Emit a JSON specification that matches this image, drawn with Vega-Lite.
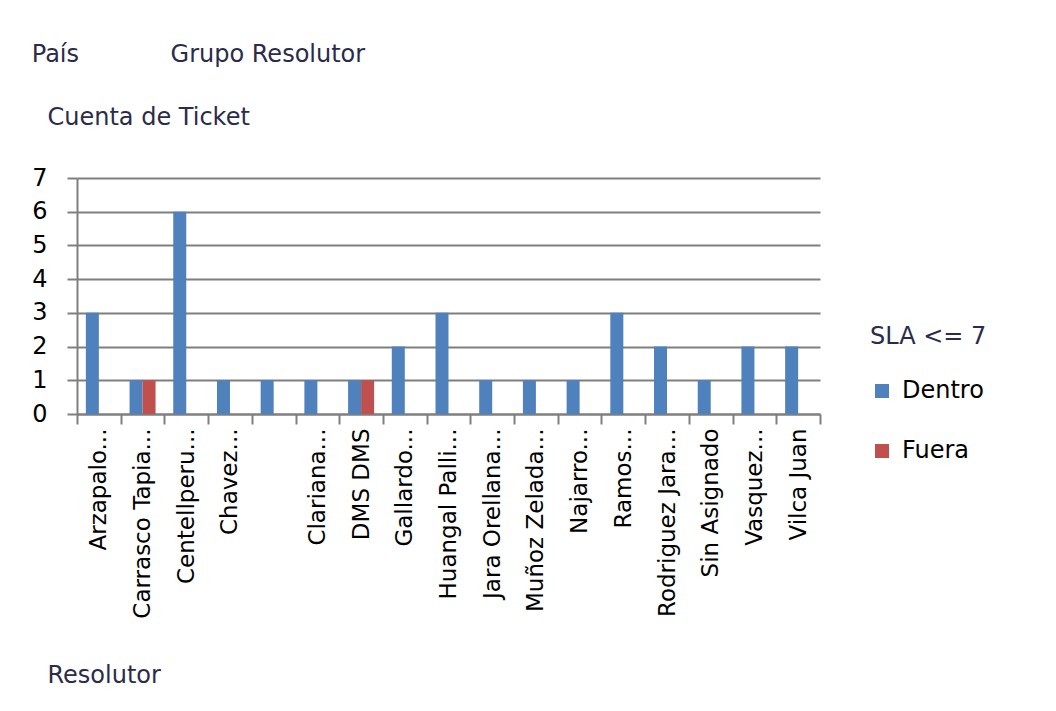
{
  "$schema": "https://vega.github.io/schema/vega-lite/v6.json",
  "autosize": {"type": "none"},
  "width": 743,
  "height": 236,
  "padding": {"left": 77, "top": 178, "right": 236, "bottom": 297},
  "background": "white",
  "title": {
    "text": "País\u00a0\u00a0\u00a0\u00a0\u00a0\u00a0\u00a0\u00a0\u00a0\u00a0\u00a0\u00a0Grupo Resolutor",
    "anchor": "start",
    "frame": "bounds",
    "offset": 38,
    "font": "DejaVu Sans",
    "fontSize": 24,
    "fontWeight": "normal",
    "color": "#2b2b4b"
  },
  "data": {
    "values": [
      {"Resolutor": "Arzapalo...", "SLA": "Dentro", "Cuenta": 3},
      {"Resolutor": "Carrasco Tapia...", "SLA": "Dentro", "Cuenta": 1},
      {"Resolutor": "Carrasco Tapia...", "SLA": "Fuera", "Cuenta": 1},
      {"Resolutor": "Centellperu...", "SLA": "Dentro", "Cuenta": 6},
      {"Resolutor": "Chavez...", "SLA": "Dentro", "Cuenta": 1},
      {"Resolutor": "", "SLA": "Dentro", "Cuenta": 1},
      {"Resolutor": "Clariana...", "SLA": "Dentro", "Cuenta": 1},
      {"Resolutor": "DMS DMS", "SLA": "Dentro", "Cuenta": 1},
      {"Resolutor": "DMS DMS", "SLA": "Fuera", "Cuenta": 1},
      {"Resolutor": "Gallardo...", "SLA": "Dentro", "Cuenta": 2},
      {"Resolutor": "Huangal Palli...", "SLA": "Dentro", "Cuenta": 3},
      {"Resolutor": "Jara Orellana...", "SLA": "Dentro", "Cuenta": 1},
      {"Resolutor": "Muñoz Zelada...", "SLA": "Dentro", "Cuenta": 1},
      {"Resolutor": "Najarro...", "SLA": "Dentro", "Cuenta": 1},
      {"Resolutor": "Ramos...", "SLA": "Dentro", "Cuenta": 3},
      {"Resolutor": "Rodriguez Jara...", "SLA": "Dentro", "Cuenta": 2},
      {"Resolutor": "Sin Asignado", "SLA": "Dentro", "Cuenta": 1},
      {"Resolutor": "Vasquez...", "SLA": "Dentro", "Cuenta": 2},
      {"Resolutor": "Vilca Juan", "SLA": "Dentro", "Cuenta": 2}
    ]
  },
  "mark": {"type": "bar"},
  "encoding": {
    "x": {
      "field": "Resolutor",
      "type": "nominal",
      "sort": ["Arzapalo...", "Carrasco Tapia...", "Centellperu...", "Chavez...", "", "Clariana...", "DMS DMS", "Gallardo...", "Huangal Palli...", "Jara Orellana...", "Muñoz Zelada...", "Najarro...", "Ramos...", "Rodriguez Jara...", "Sin Asignado", "Vasquez...", "Vilca Juan"],
      "scale": {"paddingInner": 0, "paddingOuter": 0},
      "axis": {
        "title": "Resolutor",
        "titleX": -30,
        "titleY": 261,
        "titleAlign": "left",
        "titleBaseline": "middle",
        "titleFont": "DejaVu Sans",
        "titleFontSize": 24,
        "titleFontWeight": "normal",
        "titleColor": "#2b2b4b",
        "labelAngle": 270,
        "labelAlign": "right",
        "labelBaseline": "middle",
        "labelFont": "DejaVu Sans",
        "labelFontSize": 23,
        "labelColor": "#000000",
        "labelPadding": 4,
        "labelOverlap": false,
        "labelLimit": 400,
        "tickBand": "extent",
        "tickSize": 10,
        "tickColor": "#7f7f7f",
        "tickWidth": 2,
        "domainColor": "#7f7f7f",
        "domainWidth": 2,
        "grid": false
      }
    },
    "xOffset": {
      "field": "SLA",
      "type": "nominal",
      "sort": ["Dentro", "Fuera"],
      "scale": {"domain": ["Dentro", "Fuera"], "paddingInner": 0, "paddingOuter": 0.68}
    },
    "y": {
      "field": "Cuenta",
      "type": "quantitative",
      "scale": {"domain": [0, 7], "nice": false},
      "axis": {
        "title": "Cuenta de Ticket",
        "titleAngle": 0,
        "titleX": -30,
        "titleY": -61,
        "titleAlign": "left",
        "titleBaseline": "middle",
        "titleFont": "DejaVu Sans",
        "titleFontSize": 24,
        "titleFontWeight": "normal",
        "titleColor": "#2b2b4b",
        "values": [0, 1, 2, 3, 4, 5, 6, 7],
        "grid": true,
        "gridColor": "#7f7f7f",
        "gridWidth": 2,
        "domainColor": "#7f7f7f",
        "domainWidth": 2,
        "tickColor": "#7f7f7f",
        "tickWidth": 2,
        "tickSize": 10,
        "labelPadding": 20,
        "labelFont": "DejaVu Sans",
        "labelFontSize": 24,
        "labelColor": "#000000"
      }
    },
    "color": {
      "field": "SLA",
      "type": "nominal",
      "scale": {"domain": ["Dentro", "Fuera"], "range": ["#4F81BD", "#C0504D"]},
      "legend": {
        "orient": "none",
        "legendX": 793,
        "legendY": 147,
        "title": "SLA <= 7",
        "titleFont": "DejaVu Sans",
        "titleFontSize": 24,
        "titleFontWeight": "normal",
        "titleColor": "#2b2b4b",
        "titlePadding": 30,
        "labelFont": "DejaVu Sans",
        "labelFontSize": 24,
        "labelColor": "#000000",
        "symbolType": "square",
        "symbolSize": 196,
        "symbolStrokeWidth": 0,
        "symbolOffset": 0,
        "labelOffset": 8,
        "rowPadding": 36
      }
    }
  },
  "config": {"view": {"stroke": null}}
}
